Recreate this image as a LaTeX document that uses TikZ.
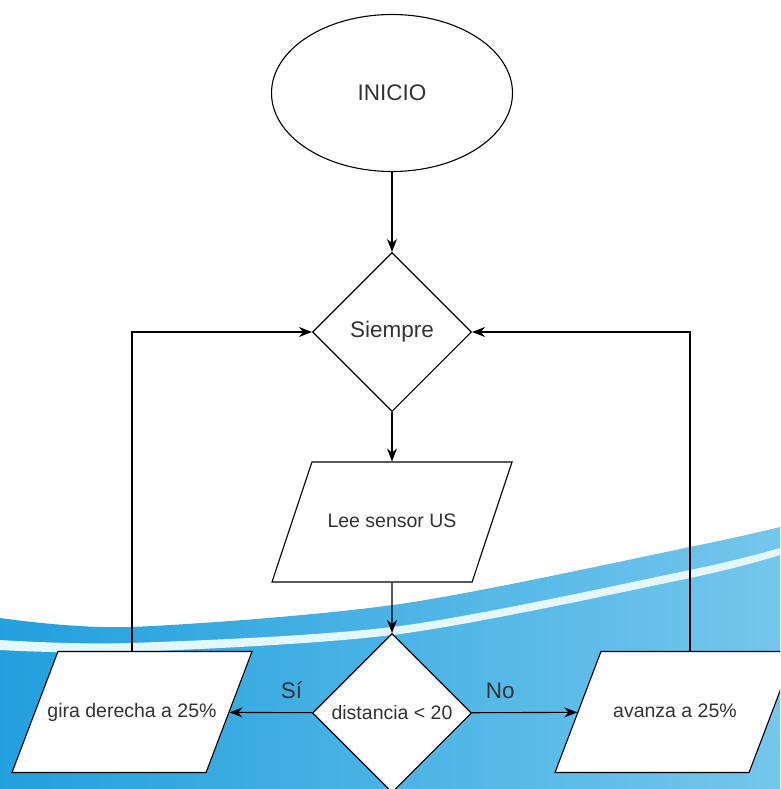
\documentclass[tikz,border=0pt]{standalone}
\usepackage{fontspec}
\setmainfont{Liberation Sans}
\usetikzlibrary{shapes.geometric,arrows.meta}
\definecolor{waveleft}{RGB}{34,160,221}
\definecolor{waveright}{RGB}{116,198,236}
\definecolor{stripe}{RGB}{228,247,253}
\definecolor{txt}{RGB}{51,51,51}

\begin{document}
\begin{tikzpicture}[x=1pt,y=-1pt,
    box/.style={draw, fill=white, line width=1.1pt, text=txt, inner sep=0pt,
        font=\fontsize{19.5}{22}\selectfont},
    startbox/.style={box, ellipse, minimum width=241pt, minimum height=157pt,
        font=\fontsize{22.5}{26}\selectfont},
    decision/.style={box, diamond, aspect=1, minimum width=159pt, minimum height=159pt},
    iobox/.style={box, trapezium, trapezium left angle=69.2, trapezium right angle=110.8,
        trapezium stretches body, text height=12pt, text depth=2pt, inner ysep=53.5pt,
        inner xsep=-40pt, minimum width=240pt},
    arr/.style={line width=1.1pt, -{Stealth[length=13pt,width=10pt]}},
    tag/.style={text=txt, inner sep=1pt, font=\fontsize{22.5}{26}\selectfont}]

    % Define column position
    \def\midx{392}

    % Draw background wave
    \clip (0,0) rectangle (780,789);
    \fill[white] (0,0) rectangle (780,789);
    \shade[left color=waveleft, right color=waveright]
        plot[smooth] coordinates {(0,618) (130,627) (400,604) (690,547) (780,527)}
        -- (780,789) -- (0,789) -- cycle;
    \fill[stripe]
        plot[smooth] coordinates {(0,640) (130,643) (400,626) (690,570) (780,548)}
        -- plot[smooth] coordinates {(780,555) (690,578) (400,634) (130,652) (0,650)}
        -- cycle;

    % Draw nodes
    \node[startbox] (inicio) at (\midx,93) {INICIO};
    \node[decision, font=\fontsize{22.5}{26}\selectfont] (siempre) at (\midx,332) {Siempre};
    \node[iobox, inner ysep=53pt, trapezium left angle=71.6, trapezium right angle=108.4] (lee) at (\midx,522) {Lee sensor US};
    \node[decision] (dist) at (\midx,713) {distancia < 20};
    \node[iobox] (gira) at (132,712) {gira derecha a 25\%};
    \node[iobox] (avanza) at (675,712) {avanza a 25\%};

    % Draw connectors
    \draw[arr] (inicio) -- (siempre);
    \draw[arr] (siempre) -- (lee);
    \draw[arr] (lee) -- (dist);
    \draw[arr] (dist) -- (gira) node[tag, pos=0.25, above=12pt] {Sí};
    \draw[arr] (dist) -- (avanza) node[tag, pos=0.27, above=12pt] {No};

    % Loops back to Siempre
    \draw[arr] (gira.center |- gira.north) |- (siempre.west);
    \draw[arr] ([xshift=15pt]avanza.center |- avanza.north) |- (siempre.east);
\end{tikzpicture}
\end{document}
